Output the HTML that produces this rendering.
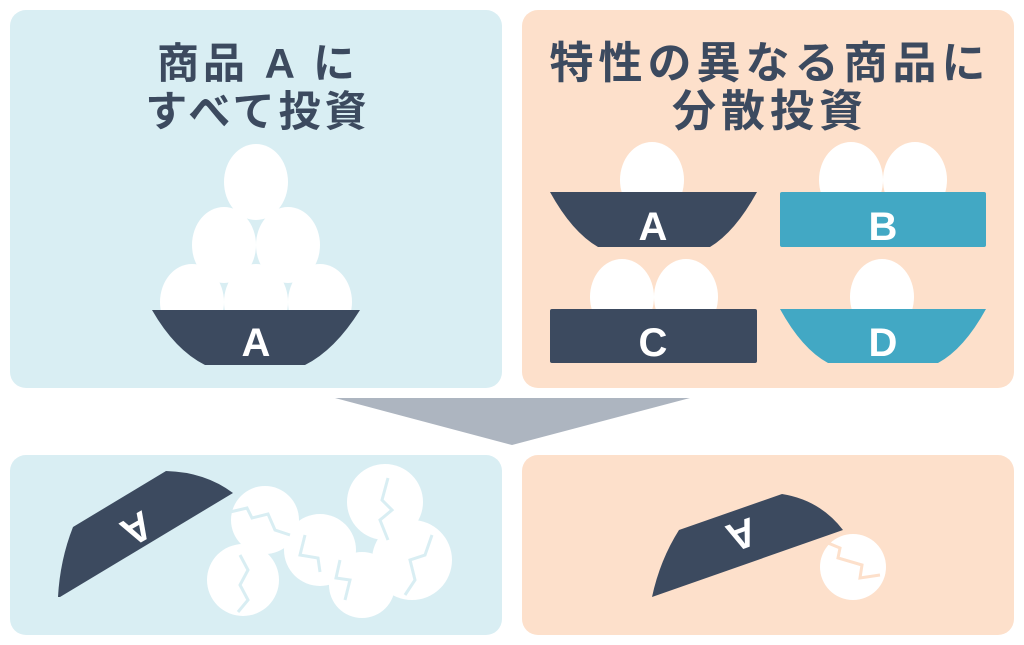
<!DOCTYPE html>
<html><head><meta charset="utf-8"><style>
html,body{margin:0;padding:0;background:#fff;width:1024px;height:645px;overflow:hidden}
text{font-family:"Liberation Sans","Noto Sans CJK JP",sans-serif;font-weight:bold}
</style></head><body>
<svg width="1024" height="645" viewBox="0 0 1024 645" xmlns="http://www.w3.org/2000/svg">
<rect x="10" y="10" width="492" height="378" rx="16" fill="#d9eef3"/>
<rect x="522" y="10" width="492" height="378" rx="16" fill="#fde0cb"/>
<rect x="10" y="455" width="492" height="180" rx="16" fill="#d9eef3"/>
<rect x="522" y="455" width="492" height="180" rx="16" fill="#fde0cb"/>
<polygon points="335,398 690,398 512,445" fill="#adb5c0"/>

<g fill="#3c4a5f" font-size="42" text-anchor="middle" letter-spacing="4">
<text x="258" y="78">商品 A に</text>
<text x="258" y="126">すべて投資</text>
</g>
<g fill="#3c4a5f" font-size="44" text-anchor="middle" letter-spacing="5">
<text x="770" y="78">特性の異なる商品に</text>
<text x="770" y="126">分散投資</text>
</g>

<g fill="#fff">
<ellipse cx="256" cy="182" rx="32" ry="38"/>
<ellipse cx="224" cy="245" rx="32" ry="38"/>
<ellipse cx="288" cy="245" rx="32" ry="38"/>
<ellipse cx="192" cy="302" rx="32" ry="38"/>
<ellipse cx="256" cy="302" rx="32" ry="38"/>
<ellipse cx="320" cy="302" rx="32" ry="38"/>
</g>
<path d="M152,310 H360 Q335,350 305,365 H205 Q175,350 152,310Z" fill="#3c4a5f"/>
<text x="256" y="356" font-size="40" fill="#fff" text-anchor="middle">A</text>

<g fill="#fff">
<ellipse cx="652" cy="180" rx="32" ry="38"/>
<ellipse cx="851" cy="180" rx="32" ry="38"/>
<ellipse cx="915" cy="180" rx="32" ry="38"/>
<ellipse cx="622" cy="297" rx="32" ry="38"/>
<ellipse cx="686" cy="297" rx="32" ry="38"/>
<ellipse cx="882" cy="297" rx="32" ry="38"/>
</g>
<path d="M550,192 H757 Q735,232 710,247 H598 Q572,232 550,192Z" fill="#3c4a5f"/>
<rect x="780" y="192" width="206" height="55" rx="2" fill="#42a8c4"/>
<rect x="550" y="309" width="207" height="54" rx="2" fill="#3c4a5f"/>
<path d="M780,309 H986 Q964,349 938,363 H828 Q802,349 780,309Z" fill="#42a8c4"/>
<g font-size="40" fill="#fff" text-anchor="middle">
<text x="653" y="240">A</text>
<text x="883" y="240">B</text>
<text x="653" y="356">C</text>
<text x="883" y="356">D</text>
</g>

<path d="M60,597 L233,493 Q205,472 166,471 L73,527 Q60,560 58,597Z" fill="#3c4a5f"/>
<text x="0" y="0" font-size="40" fill="#fff" text-anchor="middle" transform="translate(130,517) rotate(150)">A</text>
<g fill="#fff">
<circle cx="265" cy="520" r="34"/>
<circle cx="243" cy="580" r="36"/>
<circle cx="320" cy="550" r="36"/>
<circle cx="362" cy="585" r="33"/>
<circle cx="385" cy="502" r="38"/>
<circle cx="412" cy="560" r="40"/>
</g>
<g stroke="#d9eef3" stroke-width="3" fill="none">
<polyline points="230,512 247,508 252,518 268,514 275,530 290,535"/>
<polyline points="240,555 248,570 240,585 248,600 238,612"/>
<polyline points="305,535 300,555 318,558 320,572"/>
<polyline points="340,560 336,578 350,580 345,600"/>
<polyline points="388,478 382,500 392,510 380,520 388,540"/>
<polyline points="432,535 425,555 410,560 415,580 405,595"/>
</g>

<path d="M652,597 L843,530 Q820,500 782,494 L679,530 Q660,560 652,597Z" fill="#3c4a5f"/>
<text x="0" y="0" font-size="40" fill="#fff" text-anchor="middle" transform="translate(737,522) rotate(160)">A</text>
<circle cx="853" cy="567" r="33" fill="#fff"/>
<polyline points="828,543 840,548 838,558 862,565 860,578 880,575" stroke="#fde0cb" stroke-width="3" fill="none"/>
</svg>
</body></html>
